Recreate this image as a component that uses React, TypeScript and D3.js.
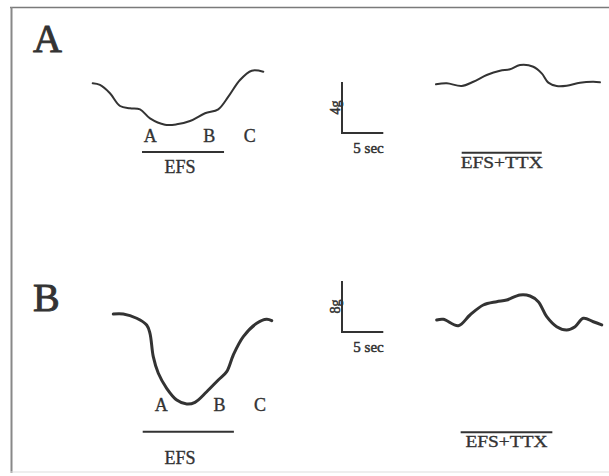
import React from "react";
import { scaleLinear, line, curveCatmullRom } from "d3";

// traces: time in seconds from start of trace, tension change in g
const effA_t = [0, 0.88, 2.09, 3.31, 4.52, 5.73, 6.94, 8.75, 10.17, 11.78, 13.6, 15.2, 16.42, 17.83, 19.25, 20.65];
const effA_g = [0, -0.13, -0.78, -1.78, -1.96, -2.04, -2.75, -3.25, -3.22, -2.96, -2.35, -2.04, -1.05, 0.26, 0.99, 0.91];

const ttxA_t = [0, 1.3, 3.11, 4.52, 6.14, 7.75, 8.96, 10.17, 11.78, 12.8, 13.6, 14.61, 15.82, 17.43, 19.05, 19.85];
const ttxA_g = [0, 0.08, -0.13, 0.2, 0.73, 1.07, 1.18, 1.51, 1.38, 0.86, 0.13, -0.13, -0.11, 0.13, 0.2, 0.16];

const effB_t = [0, 1.21, 2.83, 4.04, 4.44, 4.84, 5.45, 6.46, 7.68, 8.89, 9.89, 11.31, 12.71, 13.73, 14.53, 15.74, 17.36, 18.57, 19.18];
const effB_g = [0, 0, -0.67, -1.73, -3.03, -6.68, -9.3, -11.65, -13.49, -14.12, -13.85, -12.19, -10.35, -9.04, -6.43, -3.56, -1.46, -0.83, -1.05];

const ttxB_t = [0, 0.8, 2.62, 4.03, 5.64, 7.26, 8.47, 10.08, 11.3, 12.3, 13.32, 14.53, 15.74, 16.75, 17.75, 18.96, 19.98];
const ttxB_g = [0, 0.11, -0.89, 0.78, 2.35, 2.87, 3.14, 3.92, 3.76, 2.87, 0.52, -1.05, -1.57, -1.05, 0.27, -0.27, -0.78];

// stimulation periods (s) and marker times (s)
const stimA = [5.97, 15.9];
const stimTtxA = [3.11, 12.8];
const stimB = [3.56, 14.6];
const stimTtxB = [2.9, 14.0];
const markLabels = ["A", "B", "C"];
const marksA = [6.98, 14.1, 19.0];
const marksB = [5.81, 12.86, 17.76];

const BAR_PX = 51;
const INK = "#333";
const FONT = "'Liberation Serif', 'Times New Roman', serif";

const zip = (t: number[], g: number[]) => t.map((d, i) => [d, g[i]] as [number, number]);

function Panel({ letter, letterY, gain, x0, y0, tx0, ty0, eff, ttx, stim, stimTtx, marks, markY, barY, efsY, ttxBarY, ttxTextY, scaleTop, sw }: any) {
  const x = scaleLinear().domain([0, 5]).range([x0, x0 + 41.3]);
  const y = scaleLinear().domain([0, gain]).range([y0, y0 - BAR_PX]);
  const xr = scaleLinear().domain([0, 5]).range([tx0, tx0 + 41.3]);
  const yr = scaleLinear().domain([0, gain]).range([ty0, ty0 - BAR_PX]);
  // calibration bar
  const sx = scaleLinear().domain([0, 5]).range([342, 342 + 41.3]);
  const sy = scaleLinear().domain([0, gain]).range([scaleTop + BAR_PX, scaleTop]);

  const gen = (xs: any, ys: any) =>
    line<[number, number]>().x((d) => xs(d[0])).y((d) => ys(d[1])).curve(curveCatmullRom.alpha(0.5));

  return (
    <g fontFamily={FONT} fill={INK} stroke={INK} strokeWidth={0.35}>
      <text x={33} y={letterY} fontSize={40} strokeWidth={0.9}>{letter}</text>
      <path d={gen(x, y)(eff) || ""} fill="none" stroke={INK} strokeWidth={sw} strokeLinecap="round" strokeLinejoin="round" />
      <path d={gen(xr, yr)(ttx) || ""} fill="none" stroke={INK} strokeWidth={sw} strokeLinecap="round" strokeLinejoin="round" />
      {marks.map((m: number, i: number) => (
        <text key={i} x={x(m)} y={markY} fontSize={18} textAnchor="middle">{markLabels[i]}</text>
      ))}
      <line x1={x(stim[0])} x2={x(stim[1])} y1={barY} y2={barY} stroke={INK} strokeWidth={2} />
      <text x={180} y={efsY} fontSize={18} textAnchor="middle">EFS</text>
      <line x1={xr(stimTtx[0])} x2={xr(stimTtx[1])} y1={ttxBarY} y2={ttxBarY} stroke={INK} strokeWidth={2} />
      <text x={xr((stimTtx[0] + stimTtx[1]) / 2)} y={ttxTextY} fontSize={17} textAnchor="middle" textLength={82} lengthAdjust="spacingAndGlyphs">EFS+TTX</text>
      <path d={`M${sx(0)},${sy(gain)}V${sy(0)}H${sx(5)}`} fill="none" stroke={INK} strokeWidth={2} />
      <text transform={`translate(${sx(0) - 2.5},${sy(gain / 2)}) rotate(-90)`} fontSize={14} textAnchor="middle" strokeWidth={0.5}>{gain}g</text>
      <text x={368.5} y={sy(0) + 20} fontSize={15} textAnchor="middle" strokeWidth={0.5}>5 sec</text>
    </g>
  );
}

export default function App() {
  return (
    <svg width={609} height={476} style={{ position: "absolute", left: 0, top: 0, background: "#fff" }}>
      <rect width={609} height={476} fill="#fff" />
      <line x1={10} x2={609} y1={7.5} y2={7.5} stroke="#7a7a7a" strokeWidth={1.5} />
      <line x1={11.5} x2={11.5} y1={7} y2={473} stroke="#888" strokeWidth={2} />
      <line x1={10} x2={609} y1={472} y2={472} stroke="#ddd" strokeWidth={1} />
      <Panel
        letter="A" letterY={52} gain={4} sw={2}
        x0={92.7} y0={83.3} tx0={436} ty0={84.3}
        eff={zip(effA_t, effA_g)} ttx={zip(ttxA_t, ttxA_g)}
        stim={stimA} stimTtx={stimTtxA} marks={marksA}
        markY={142.3} barY={152} efsY={172.5} ttxBarY={152.7} ttxTextY={167.5}
        scaleTop={82}
      />
      <Panel
        letter="B" letterY={311} gain={8} sw={3}
        x0={113.3} y0={314} tx0={436.7} ty0={320}
        eff={zip(effB_t, effB_g)} ttx={zip(ttxB_t, ttxB_g)}
        stim={stimB} stimTtx={stimTtxB} marks={marksB}
        markY={410.7} barY={431.7} efsY={463.5} ttxBarY={432.3} ttxTextY={447}
        scaleTop={281}
      />
    </svg>
  );
}
